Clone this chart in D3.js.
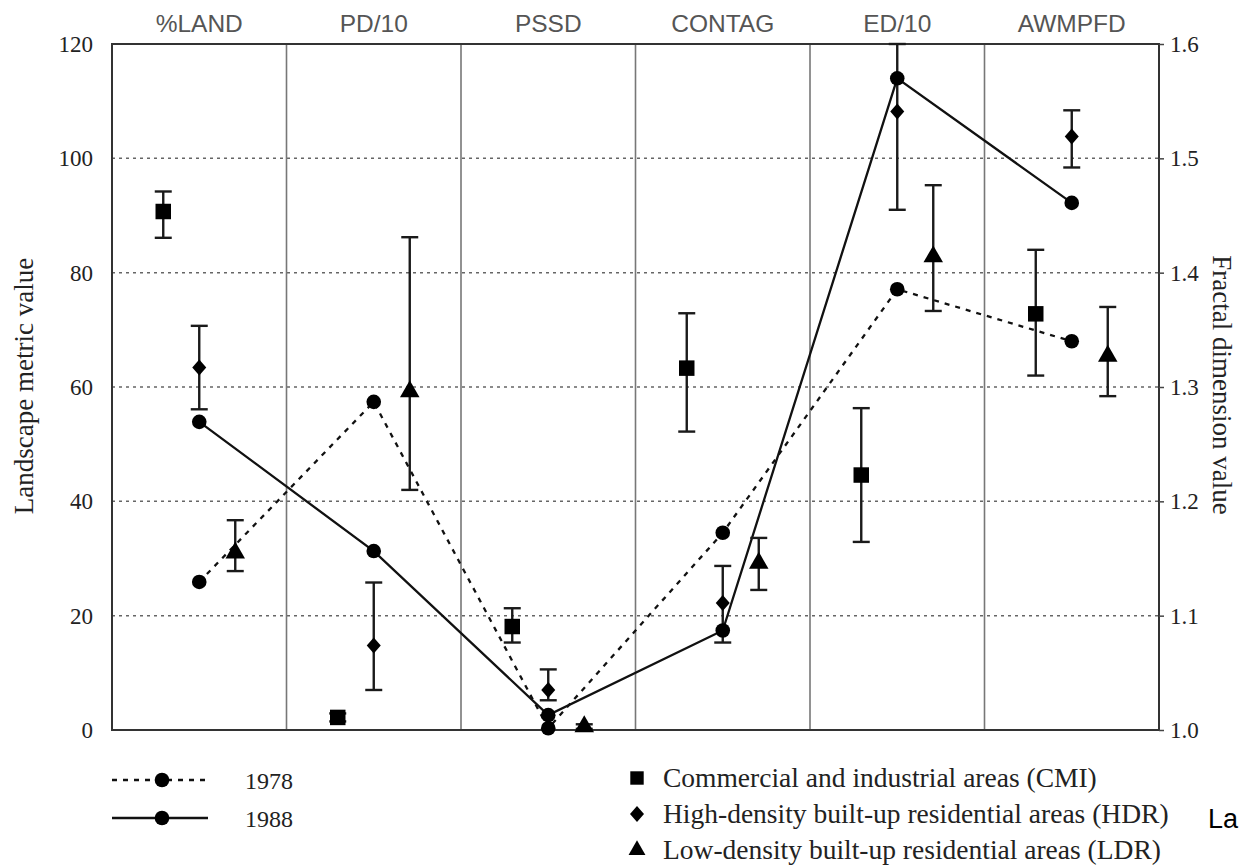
<!DOCTYPE html>
<html>
<head>
<meta charset="utf-8">
<script src="https://cdn.jsdelivr.net/npm/d3@7"></script>
<style>
  html, body { margin: 0; padding: 0; background: #fff; }
  svg { display: block; }
</style>
</head>
<body>
<svg id="chart" width="1241" height="866"></svg>
<script>
// Landscape metrics per category; AWMPFD is read on the fractal-dimension axis.
const categories = ["%LAND", "PD/10", "PSSD", "CONTAG", "ED/10", "AWMPFD"];

// Whole-area values for the two years (circles joined by lines)
const year1978 = [25.9, 57.4, 0.3, 34.5, 77.1, 1.340];
const year1988 = [53.9, 31.3, 2.6, 17.4, 114.0, 1.461];

// Land-use classes: mean and [below, above] error lengths
const cmiValues = [90.7, 2.2, 18.1, 63.3, 44.6, 1.364];
const cmiErrors = [[4.6, 3.5], [0.7, 0.7], [2.8, 3.2], [11.1, 9.6], [11.7, 11.7], [0.054, 0.056]];
const hdrValues = [63.4, 14.8, 7.0, 22.2, 108.2, 1.519];
const hdrErrors = [[7.3, 7.3], [7.8, 11.0], [1.8, 3.6], [6.9, 6.5], [17.2, 17.2], [0.027, 0.023]];
const ldrValues = [31.0, 59.2, 0.6, 29.2, 82.8, 1.327];
const ldrErrors = [[3.2, 5.7], [17.2, 27.0], [0.4, 0.4], [4.7, 4.4], [9.5, 12.5], [0.035, 0.043]];

const leftTicks = [0, 20, 40, 60, 80, 100, 120];
const rightTicks = [1.0, 1.1, 1.2, 1.3, 1.4, 1.5, 1.6];
const gridTicks = [20, 40, 60, 80, 100];

const classes = [
  { key: "CMI", label: "Commercial and industrial areas (CMI)", symbol: d3.symbolSquare, size: 240, values: cmiValues, errors: cmiErrors },
  { key: "HDR", label: "High-density built-up residential areas (HDR)", symbol: "diamond", size: 0, values: hdrValues, errors: hdrErrors },
  { key: "LDR", label: "Low-density built-up residential areas (LDR)", symbol: d3.symbolTriangle, size: 165, values: ldrValues, errors: ldrErrors }
];
const years = [
  { label: "1978", values: year1978, dash: "5,6" },
  { label: "1988", values: year1988, dash: null }
];

const svg = d3.select("#chart");
const m = { left: 112, right: 1159, top: 44, bottom: 730 };

const x = d3.scaleBand().domain(categories).range([m.left, m.right]).padding(0);
const offset = d3.scalePoint().domain(classes.map(c => c.key)).range([-36, 36]);
const y = d3.scaleLinear().domain([0, 120]).range([m.bottom, m.top]);
const y2 = d3.scaleLinear().domain([1.0, 1.6]).range([m.bottom, m.top]);

const cx = i => x(categories[i]) + x.bandwidth() / 2;
const scaleFor = i => (categories[i] === "AWMPFD" ? y2 : y);
const yAt = (i, v) => scaleFor(i)(v);

const serif = "'Liberation Serif', 'Times New Roman', serif";
const sans = "'Liberation Sans', Arial, sans-serif";

// Dotted horizontal grid
svg.append("g").selectAll("line").data(gridTicks).join("line")
  .attr("x1", m.left).attr("x2", m.right)
  .attr("y1", d => y(d)).attr("y2", d => y(d))
  .attr("stroke", "#666").attr("stroke-width", 1.5).attr("stroke-dasharray", "3,4");

// Panel dividers
svg.append("g").selectAll("line").data(categories.slice(1)).join("line")
  .attr("x1", d => x(d)).attr("x2", d => x(d))
  .attr("y1", m.top).attr("y2", m.bottom)
  .attr("stroke", "#777").attr("stroke-width", 1.6);

// Frame
svg.append("rect")
  .attr("x", m.left).attr("y", m.top)
  .attr("width", m.right - m.left).attr("height", m.bottom - m.top)
  .attr("fill", "none").attr("stroke", "#333").attr("stroke-width", 2);

// Category headers
svg.append("g").selectAll("text").data(categories).join("text")
  .attr("x", (d, i) => cx(i)).attr("y", 32)
  .attr("text-anchor", "middle")
  .attr("font-family", sans).attr("font-size", 24.5).attr("fill", "#555")
  .text(d => d);

// Left axis
const gl = svg.append("g").attr("transform", `translate(${m.left},0)`)
  .call(d3.axisLeft(y).tickValues(leftTicks).tickSize(0).tickPadding(19));
gl.select(".domain").remove();
gl.selectAll("text").attr("font-family", serif).attr("font-size", 23).attr("fill", "#222");

// Right axis
const gr = svg.append("g").attr("transform", `translate(${m.right},0)`)
  .call(d3.axisRight(y2).tickValues(rightTicks).tickFormat(d3.format(".1f")).tickSize(5).tickPadding(6));
gr.select(".domain").remove();
gr.selectAll("line").attr("stroke", "#444").attr("stroke-width", 1.5);
gr.selectAll("text").attr("font-family", serif).attr("font-size", 23).attr("fill", "#222");

// Axis titles
svg.append("text")
  .attr("transform", `translate(33,${(m.top + m.bottom) / 2 - 1}) rotate(-90)`)
  .attr("text-anchor", "middle")
  .attr("font-family", serif).attr("font-size", 27).attr("fill", "#222")
  .text("Landscape metric value");
svg.append("text")
  .attr("transform", `translate(1213,${(m.top + m.bottom) / 2 - 2}) rotate(90)`)
  .attr("text-anchor", "middle")
  .attr("font-family", serif).attr("font-size", 27).attr("fill", "#222")
  .text("Fractal dimension value");

// Year lines
years.forEach(yr => {
  const line = d3.line().x((d, i) => cx(i)).y((d, i) => yAt(i, d));
  svg.append("path").datum(yr.values)
    .attr("d", line)
    .attr("fill", "none").attr("stroke", "#111").attr("stroke-width", 2.3)
    .attr("stroke-dasharray", yr.dash);
});

// Error bars (clamped to the plotting range)
const capHalf = 8.5;
classes.forEach(c => {
  const g = svg.append("g").attr("stroke", "#1a1a1a").attr("stroke-width", 2.4);
  c.values.forEach((v, i) => {
    const s = scaleFor(i);
    const [lo, hi] = s.domain();
    const px = cx(i) + offset(c.key);
    const yTop = s(Math.min(hi, v + c.errors[i][1]));
    const yBot = s(Math.max(lo, v - c.errors[i][0]));
    g.append("line").attr("x1", px).attr("x2", px).attr("y1", yTop).attr("y2", yBot);
    g.append("line").attr("x1", px - capHalf).attr("x2", px + capHalf).attr("y1", yTop).attr("y2", yTop);
    g.append("line").attr("x1", px - capHalf).attr("x2", px + capHalf).attr("y1", yBot).attr("y2", yBot);
  });
});

// Marker shapes
const diamondPath = "M0,-8L7,0L0,8L-7,0Z";
const markerPath = c => (c.symbol === "diamond" ? diamondPath : d3.symbol().type(c.symbol).size(c.size)());

classes.forEach(c => {
  svg.append("g").selectAll("path").data(c.values).join("path")
    .attr("d", markerPath(c))
    .attr("transform", (d, i) => `translate(${cx(i) + offset(c.key)},${yAt(i, d)})`)
    .attr("fill", "#000");
});

years.forEach(yr => {
  svg.append("g").selectAll("circle").data(yr.values).join("circle")
    .attr("cx", (d, i) => cx(i)).attr("cy", (d, i) => yAt(i, d))
    .attr("r", 7.3).attr("fill", "#000");
});

// Year legend
const yearLegend = svg.append("g");
years.forEach((yr, k) => {
  const ly = 780 + k * 38;
  yearLegend.append("line")
    .attr("x1", 112).attr("x2", 208).attr("y1", ly).attr("y2", ly)
    .attr("stroke", "#111").attr("stroke-width", 2.3).attr("stroke-dasharray", yr.dash);
  yearLegend.append("circle").attr("cx", 162).attr("cy", ly).attr("r", 7.3).attr("fill", "#000");
  yearLegend.append("text")
    .attr("x", 245).attr("y", ly + 8.5)
    .attr("font-family", serif).attr("font-size", 24).attr("fill", "#222")
    .text(yr.label);
});

// Class legend
const classLegend = svg.append("g");
classes.forEach((c, k) => {
  const ly = 778 + k * 36;
  classLegend.append("path")
    .attr("d", c.symbol === "diamond" ? diamondPath : d3.symbol().type(c.symbol).size(c.size * 0.75)())
    .attr("transform", `translate(637,${ly})`)
    .attr("fill", "#000");
  classLegend.append("text")
    .attr("x", 663).attr("y", ly + 9)
    .attr("font-family", serif).attr("font-size", 27.5).attr("fill", "#222")
    .text(c.label);
});

// Caption fragment at the right edge
svg.append("text")
  .attr("x", 1208).attr("y", 828)
  .attr("font-family", sans).attr("font-size", 27).attr("fill", "#000")
  .text("La");
</script>
</body>
</html>
